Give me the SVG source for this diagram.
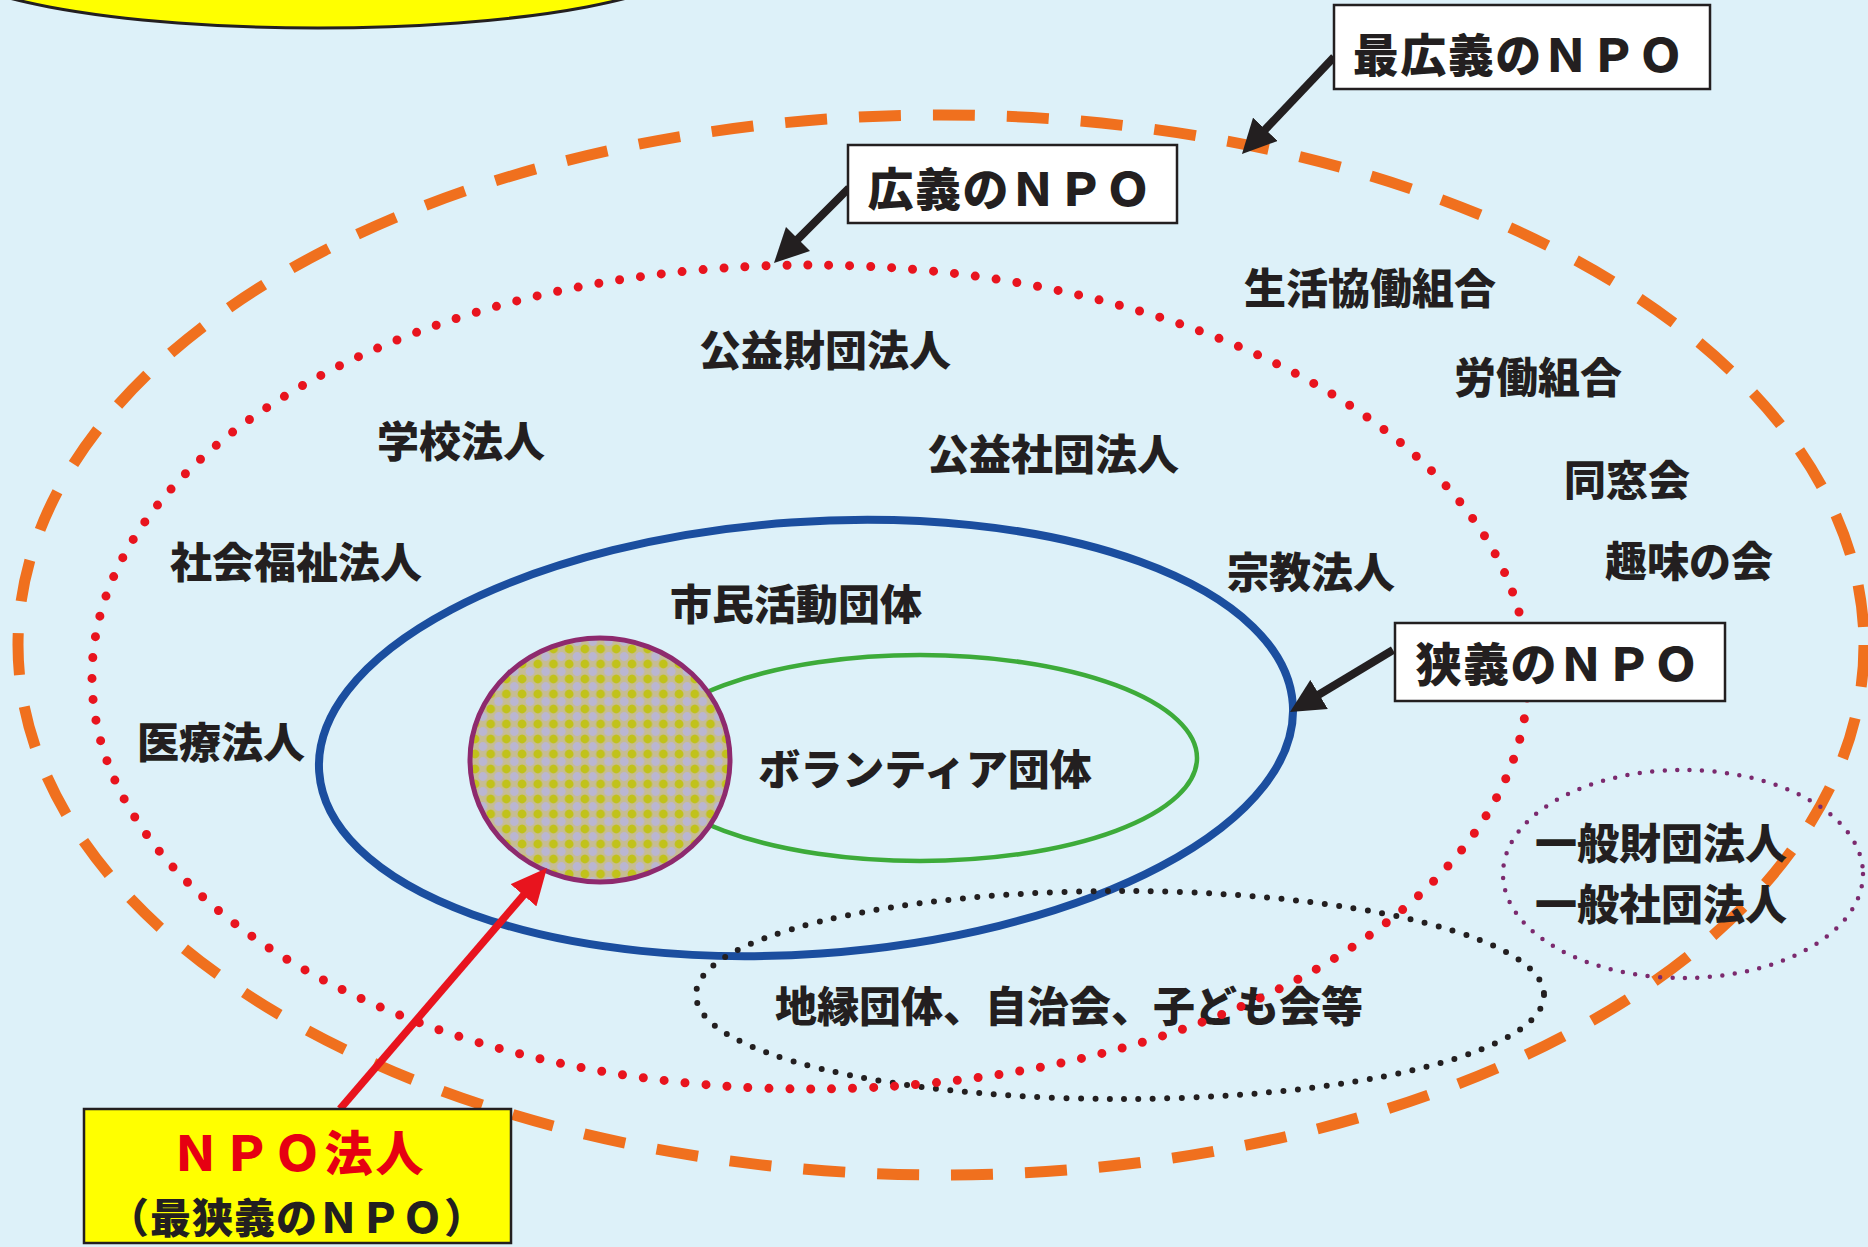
<svg xmlns="http://www.w3.org/2000/svg" width="1868" height="1247" viewBox="0 0 1868 1247">
<style>
.lbl{font-family:"Noto Sans CJK JP","Noto Sans CJK SC",sans-serif;font-weight:900;font-size:42px;fill:#231f20;text-anchor:middle;dominant-baseline:central}
.boxtxt{font-size:46px;letter-spacing:1.5px}
.box{fill:#ffffff;stroke:#231f20;stroke-width:2.5}
.arrow{fill:none;stroke:#231f20;stroke-width:8}
.red-arrow{fill:none;stroke:#e8141e;stroke-width:7.5}
</style>
<defs>
<marker id="head-black" viewBox="0 -17 34 34" markerWidth="34" markerHeight="34" refX="2" refY="0" orient="auto" markerUnits="userSpaceOnUse">
<path d="M0,-17 L34,0 L0,17 Z" fill="#231f20"/>
</marker>
<marker id="head-red" viewBox="0 -17 36 34" markerWidth="36" markerHeight="34" refX="2" refY="0" orient="auto" markerUnits="userSpaceOnUse">
<path d="M0,-17 L36,0 L0,17 Z" fill="#e8141e"/>
</marker>
<pattern id="halftone" width="15.7" height="15" patternUnits="userSpaceOnUse">
<rect width="15.7" height="15" fill="#c6bc94"/>
<circle cx="4" cy="4" r="4.4" fill="#c1c21a"/>
<circle cx="11.85" cy="11.5" r="4.4" fill="#bab6d2"/>
<circle cx="11.85" cy="-3.5" r="4.4" fill="#bab6d2"/>
<circle cx="-3.85" cy="11.5" r="4.4" fill="#bab6d2"/>
<circle cx="-3.85" cy="-3.5" r="4.4" fill="#bab6d2"/>
<circle cx="19.7" cy="4" r="4.4" fill="#c1c21a"/>
<circle cx="4" cy="19" r="4.4" fill="#c1c21a"/>
</pattern>
</defs>
<rect width="1868" height="1247" fill="#ddf1f9"/>

<g id="title-ellipse">
<ellipse cx="318" cy="-44" rx="380" ry="72" fill="#ffff00" stroke="#231f20" stroke-width="3"/>
</g>

<g id="set-broadest">
<ellipse cx="941" cy="645" rx="923" ry="530" fill="none" stroke="#f0701e" stroke-width="11" stroke-dasharray="42 32"/>
</g>

<g id="set-general">
<ellipse cx="1683" cy="874" rx="180" ry="104" fill="none" stroke="#7b2a6e" stroke-width="4.5" stroke-linecap="round" stroke-dasharray="0 12.5"/>
</g>

<g id="set-narrow">
<ellipse cx="806" cy="738" rx="488" ry="216" transform="rotate(-4 806 738)" fill="none" stroke="#1b4e9f" stroke-width="8"/>
</g>

<g id="set-volunteer">
<ellipse cx="920" cy="758" rx="277" ry="103" fill="none" stroke="#3dab3a" stroke-width="4.5"/>
</g>

<g id="set-npo-corp">
<ellipse cx="600" cy="760" rx="130" ry="122" fill="url(#halftone)" stroke="#8e2a6e" stroke-width="5"/>
</g>

<g id="set-community">
<ellipse cx="1120" cy="995" rx="424" ry="104" fill="none" stroke="#231f20" stroke-width="6" stroke-linecap="round" stroke-dasharray="0 14.5"/>
</g>

<g id="labels">
<text class="lbl" x="825" y="347">公益財団法人</text>
<text class="lbl" x="461" y="438">学校法人</text>
<text class="lbl" x="296" y="559">社会福祉法人</text>
<text class="lbl" x="1053" y="451">公益社団法人</text>
<text class="lbl" x="1370" y="285">生活協働組合</text>
<text class="lbl" x="1538" y="374">労働組合</text>
<text class="lbl" x="1627" y="477">同窓会</text>
<text class="lbl" x="1689" y="558">趣味の会</text>
<text class="lbl" x="1311" y="569">宗教法人</text>
<text class="lbl" x="796" y="601">市民活動団体</text>
<text class="lbl" x="221" y="739">医療法人</text>
<text class="lbl" x="925" y="766">ボランティア団体</text>
<text class="lbl" x="1069" y="1003">地縁団体、自治会、子ども会等</text>
<text class="lbl" x="1661" y="840">一般財団法人</text>
<text class="lbl" x="1661" y="901">一般社団法人</text>
</g>

<g id="set-broad">
<ellipse cx="810" cy="677" rx="718" ry="412" fill="none" stroke="#e8141e" stroke-width="9" stroke-linecap="round" stroke-dasharray="0 21"/>
</g>

<g id="connectors">
<path class="arrow" d="M1334,57 L1264,130.8" marker-end="url(#head-black)"/>
<path class="arrow" d="M849,188 L796.6,240.4" marker-end="url(#head-black)"/>
<path class="arrow" d="M1393,650 L1317.4,695.5" marker-end="url(#head-black)"/>
<path class="red-arrow" d="M340,1109 L524.8,893.8" marker-end="url(#head-red)"/>
</g>

<g id="callout-broadest">
<rect class="box" x="1334" y="5" width="376" height="84"/>
<text class="lbl boxtxt" x="1519" y="52">最広義のＮＰＯ</text>
</g>

<g id="callout-broad">
<rect class="box" x="848" y="145" width="329" height="78"/>
<text class="lbl boxtxt" x="1010" y="186">広義のＮＰＯ</text>
</g>

<g id="callout-narrow">
<rect class="box" x="1395" y="623" width="330" height="78"/>
<text class="lbl boxtxt" x="1558" y="661">狭義のＮＰＯ</text>
</g>

<g id="callout-npo-corp">
<rect x="84" y="1109" width="427" height="134" fill="#ffff00" stroke="#231f20" stroke-width="2.5"/>
<text class="lbl" x="299" y="1150" style="font-size:48px;fill:#e60012;letter-spacing:3px">ＮＰＯ法人</text>
<text class="lbl" x="297" y="1215" style="font-size:41px;letter-spacing:1px">（最狭義のＮＰＯ）</text>
</g>
</svg>
